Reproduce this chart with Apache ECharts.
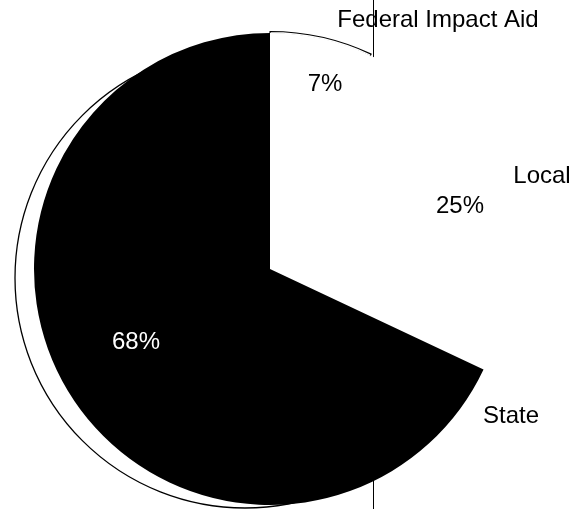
<!DOCTYPE html>
<html>
<head>
<meta charset="utf-8">
<script src="https://cdn.jsdelivr.net/npm/echarts@6/dist/echarts.min.js"></script>
<style>
html,body{margin:0;padding:0;background:#fff;}
#c{width:587px;height:509px;}
</style>
</head>
<body>
<div id="c"></div>
<script>
// ---- data ----
const categories = ['Federal Impact Aid', 'Local', 'State'];
const shares = [7, 25, 68];
const sliceColors = ['#ffffff', '#ffffff', '#000000'];
const percentColors = ['#000000', '#000000', '#ffffff'];

// ---- layout (label anchor points, pixel space) ----
const percentPos = [[325, 84], [460, 206], [136, 342]];
const namePos = [[438, 20], [542, 176], [511, 416]];
const pieCenter = [270, 269];
const pieRadius = 236;
const shadowCenter = [245, 278];
const shadowRadius = 230;

const FONT = '"Liberation Sans", Arial, Helvetica, sans-serif';

const chart = echarts.init(document.getElementById('c'), null, {renderer: 'canvas'});

const total = shares.reduce((a, b) => a + b, 0);
const baseData = categories.map((name, i) => ({name: name, value: shares[i]}));

const common = {
  type: 'pie',
  startAngle: 90,
  clockwise: true,
  silent: true,
  animation: false,
  avoidLabelOverlap: false,
  emphasis: {disabled: true},
  labelLine: {show: false}
};

chart.setOption({
  backgroundColor: '#ffffff',
  animation: false,
  graphic: [{
    type: 'line',
    z: 0,
    shape: {x1: 373.5, y1: 0, x2: 373.5, y2: 509},
    style: {stroke: '#000', lineWidth: 1}
  }],
  series: [
    // offset outline circle (behind)
    Object.assign({}, common, {
      z: 1,
      center: shadowCenter,
      radius: shadowRadius,
      data: [{name: 'outline', value: total,
        itemStyle: {color: '#fff', borderColor: '#000', borderWidth: 1.3}}],
      label: {show: false}
    }),
    // outer arc edge of the Federal slice (thin ring only)
    Object.assign({}, common, {
      z: 1,
      center: pieCenter,
      radius: [pieRadius - 1, pieRadius + 1.5],
      data: baseData.map((d, i) => ({name: d.name, value: d.value,
        itemStyle: i === 0
          ? {color: '#fff', borderColor: '#000', borderWidth: 1.2}
          : {color: 'rgba(0,0,0,0)', borderWidth: 0}})),
      label: {show: false}
    }),
    // solid white base disc (hides seams between slices)
    Object.assign({}, common, {
      z: 1,
      center: pieCenter,
      radius: pieRadius - 1,
      data: [{name: 'base', value: total, itemStyle: {color: '#fff', borderWidth: 0}}],
      label: {show: false}
    }),
    // main pie with percentages
    Object.assign({}, common, {
      z: 2,
      center: pieCenter,
      radius: pieRadius,
      data: baseData.map((d, i) => ({name: d.name, value: d.value,
        itemStyle: {color: sliceColors[i], borderWidth: 0},
        label: {color: percentColors[i]}})),
      label: {
        show: true,
        position: 'inside',
        formatter: '{c}%',
        fontFamily: FONT,
        fontSize: 24
      },
      labelLayout: function (p) {
        const pos = percentPos[p.dataIndex];
        return {x: pos[0], y: pos[1], align: 'center', verticalAlign: 'middle'};
      }
    }),
    // category names
    Object.assign({}, common, {
      z: 3,
      center: pieCenter,
      radius: pieRadius,
      data: baseData.map(d => ({name: d.name, value: d.value})),
      itemStyle: {color: 'rgba(0,0,0,0)', borderWidth: 0},
      label: {
        show: true,
        position: 'inside',
        formatter: '{b}',
        color: '#000',
        fontFamily: FONT,
        fontSize: 24
      },
      labelLayout: function (p) {
        const pos = namePos[p.dataIndex];
        return {x: pos[0], y: pos[1], align: 'center', verticalAlign: 'middle'};
      }
    })
  ]
});
</script>
</body>
</html>
